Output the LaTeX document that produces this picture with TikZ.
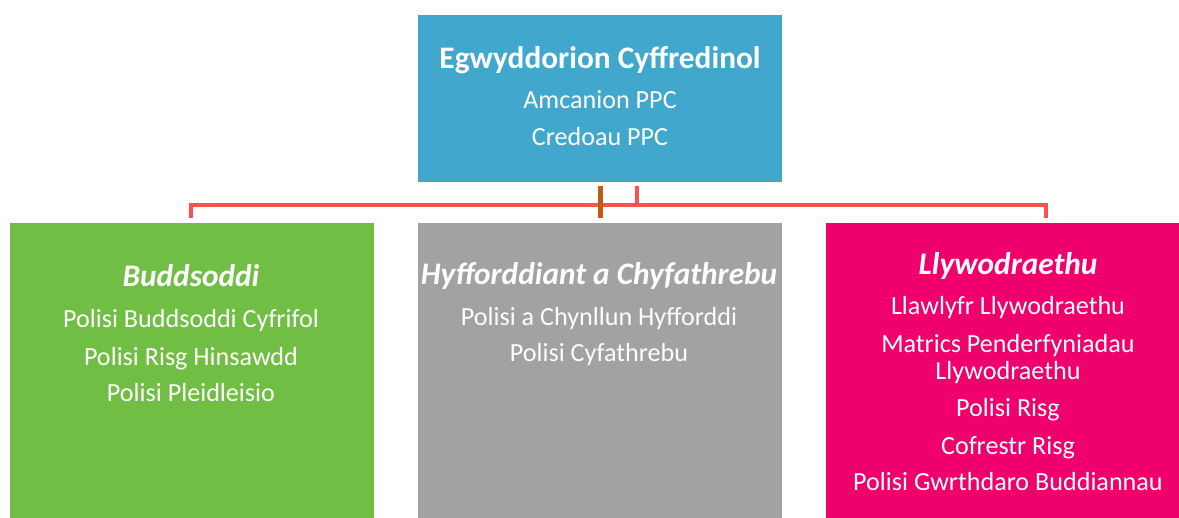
\documentclass[tikz,border=0pt]{standalone}
\usepackage{fontspec}
\setmainfont{Carlito}
\definecolor{coreblue}{HTML}{41A7CD}
\definecolor{investgreen}{HTML}{70BF44}
\definecolor{traingrey}{HTML}{A2A2A2}
\definecolor{govpink}{HTML}{F0006C}
\definecolor{linkred}{HTML}{FF5050}
\definecolor{linkbrown}{HTML}{C55A11}
\newcommand{\boxhead}[1]{{\fontsize{23.5}{28}\selectfont\bfseries #1}}
\tikzset{
  panel/.style={rectangle, inner sep=0pt, minimum width=273pt},
  paneltext/.style={anchor=north, align=center, inner sep=0pt, text=white,
    font=\fontsize{19.6}{28}\selectfont},
  link/.style={draw=linkred, line width=3pt},
  tap/.style={draw=linkbrown, line width=3.75pt}
}
\begin{document}
\begin{tikzpicture}[x=0.75pt, y=-0.75pt]
  \useasboundingbox (0,0) rectangle (1179,518);
  % boxes
  \node[panel, fill=coreblue, minimum height=125.25pt] (core) at (600,98.5) {};
  \node[panel, fill=investgreen, minimum height=221.25pt] (invest) at (192,370.5) {};
  \node[panel, fill=traingrey, minimum height=221.25pt] (train) at (600,370.5) {};
  \node[panel, fill=govpink, minimum height=221.25pt] (gov) at (1008,370.5) {};
  % texts
  \node[paneltext] (coretext) at (600,46.1) {\boxhead{Egwyddorion Cyffredinol}\\[1.8pt]
    Amcanion PPC\\[0.3pt] Credoau PPC};
  \node[paneltext] (investtext) at (191,264.5) {\boxhead{\itshape Buddsoddi}\\[2.75pt]
    Polisi Buddsoddi Cyfrifol\\ Polisi Risg Hinsawdd\\[-0.5pt] Polisi Pleidleisio};
  \node[paneltext] (traintext) at (599,262.1) {\boxhead{\itshape Hyfforddiant a Chyfathrebu}\\[2.5pt]
    Polisi a Chynllun Hyfforddi\\[-0.5pt] Polisi Cyfathrebu};
  \node[paneltext] (govtext) at (1008,252.1) {\boxhead{\itshape Llywodraethu}\\[2pt]
    Llawlyfr Llywodraethu\\[0.5pt] Matrics Penderfyniadau\\[-7.75pt] Llywodraethu\\
    Polisi Risg\\ Cofrestr Risg\\[-1pt] Polisi Gwrthdaro Buddiannau};
  % connectors
  \coordinate (stubR) at (637,186);
  \coordinate (busR) at (637,204.5);
  \coordinate (dropL) at (191,218);
  \coordinate (dropR) at (1046,218);
  \coordinate (coreTap) at (600,186);
  \coordinate (midTap) at (600,218);
  \draw[link] (dropL) -- (dropL |- busR) -- (dropR |- busR) -- (dropR);
  \draw[link] (stubR) -- (busR);
  \draw[tap] (coreTap) -- (midTap);
\end{tikzpicture}
\end{document}
